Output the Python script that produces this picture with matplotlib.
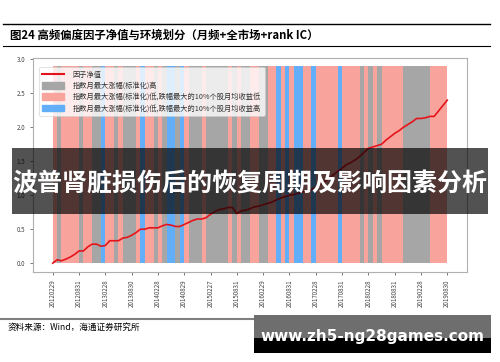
import matplotlib
matplotlib.use("Agg")
import matplotlib.pyplot as plt
import numpy as np
from matplotlib.patches import Patch, Rectangle
from matplotlib.lines import Line2D

plt.rcParams['font.family'] = ['Noto Sans CJK SC', 'DejaVu Sans']

# factor net value, one point per month end (20120229 .. 20190830)
nav = [0.00, 0.05, 0.035, 0.06, 0.09, 0.13, 0.18, 0.18, 0.24, 0.28,
       0.28, 0.25, 0.26, 0.33, 0.33, 0.33, 0.37, 0.38, 0.41, 0.45,
       0.50, 0.50, 0.52, 0.52, 0.52, 0.55, 0.57, 0.56, 0.54, 0.54,
       0.57, 0.60, 0.63, 0.65, 0.65, 0.67, 0.72, 0.76, 0.79, 0.80,
       0.82, 0.82, 0.73, 0.77, 0.78, 0.80, 0.83, 0.84, 0.86, 0.88,
       0.90, 0.93, 0.96, 0.98, 1.00, 1.01, 1.03, 1.05, 1.06, 1.08,
       1.12, 1.16, 1.20, 1.25, 1.30, 1.35, 1.40, 1.45, 1.48, 1.52,
       1.57, 1.63, 1.69, 1.71, 1.73, 1.75, 1.81, 1.86, 1.91, 1.95,
       2.00, 2.04, 2.08, 2.13, 2.13, 2.14, 2.16, 2.16, 2.24, 2.32,
       2.40]

# monthly regime: G = 涨幅高, S = 涨幅低/收益低, B = 涨幅低/收益高
regime = list("SGSSSSGSSG" "GBSSGSGGGS" "BSSGSGBBGB" "SGGGSGGGGG"
              "SGSGGSSGGS" "SBSBSBBSSB" "SSSSSBSSSS" "GSGSGSSSSS"
              "GGGGGGSSSS")
regime_height = 2.9

tick_labels = ['20120229', '20120831', '20130228', '20130830', '20140228',
               '20140829', '20150227', '20150831', '20160229', '20160831',
               '20170228', '20170831', '20180228', '20180831', '20190228',
               '20190830']

labels = ['因子净值',
          '指数月最大涨幅(标准化)高',
          '指数月最大涨幅(标准化)低,跌幅最大的10%个股月均收益低',
          '指数月最大涨幅(标准化)低,跌幅最大的10%个股月均收益高']

colors = {'G': '#a6a6a6', 'S': '#f8a49d', 'B': '#62aef8'}
red = '#e5141b'

W, H = 500, 362
fig = plt.figure(figsize=(5, 3.62), dpi=100)

def fy(y):
    return 1 - y / H

ax = fig.add_axes([33 / W, fy(272), (467 - 33) / W, (272 - 58) / H])

xb = np.arange(len(regime))
ax.bar(xb, [regime_height] * len(regime), width=1.0, align='edge',
       color=[colors[r] for r in regime], linewidth=0, zorder=1)
ax.plot(np.arange(len(nav)), nav, color=red, lw=1.2, zorder=3)

ax.set_xlim(-4.5, 94.5)
ax.set_ylim(-0.13, 3.02)
ax.set_yticks([0, 0.5, 1.0, 1.5, 2.0, 2.5, 3.0])
ax.set_yticklabels(['0.0', '0.5', '1.0', '1.5', '2.0', '2.5', '3.0'])
ax.set_xticks(np.arange(0, 91, 6))
ax.set_xticklabels(tick_labels, rotation=90)
ax.tick_params(labelsize=4.5, colors='#444444', length=2, width=0.5)
for s in ax.spines.values():
    s.set_color('#b0b0b0')
    s.set_linewidth(0.8)

handles = [Line2D([], [], color=red, lw=1.5),
           Patch(color=colors['G']), Patch(color=colors['S']),
           Patch(color=colors['B'])]
leg = ax.legend(handles, labels, loc='upper left', fontsize=5.2,
                frameon=True, framealpha=0.8, edgecolor='#cccccc',
                borderpad=0.5, labelspacing=0.45, handlelength=3.0,
                handleheight=1.0, handletextpad=1.2,
                bbox_to_anchor=(0.005, 0.975))
leg.get_frame().set_linewidth(0.5)
for t in leg.get_texts():
    t.set_color('#333333')

# header / footer decorations
fig.add_artist(Line2D([3 / W, 490 / W], [fy(24), fy(24)], color='black', lw=1.0))
fig.add_artist(Line2D([3 / W, 490 / W], [fy(46), fy(46)], color='black', lw=0.8))
fig.text(10 / W, fy(35), '图24 高频偏度因子净值与环境划分（月频+全市场+rank IC）',
         fontsize=8.2, fontweight='bold', va='center', ha='left')
fig.add_artist(Line2D([0, 255 / W], [fy(319), fy(319)], color='#808080', lw=1.5))
fig.text(8 / W, fy(327), '资料来源：Wind，海通证券研究所', fontsize=6.2,
         va='center', ha='left')

# overlay banner
fig.add_artist(Rectangle((12 / W, fy(214)), (488 - 12) / W, 66 / H,
                         transform=fig.transFigure, facecolor='black',
                         alpha=0.68, edgecolor='none', zorder=10))
fig.text(250 / W, fy(184), '波普肾脏损伤后的恢复周期及影响因素分析',
         fontsize=18, fontweight='bold', color='white', ha='center',
         va='center', zorder=11)

# watermark box
fig.add_artist(Rectangle((254 / W, fy(353)), (491 - 254) / W, 38 / H,
                         transform=fig.transFigure, facecolor='black',
                         edgecolor='none', zorder=10))
fig.add_artist(Rectangle((254 / W, fy(338)), (491 - 254) / W, 23 / H,
                         transform=fig.transFigure, facecolor='#6e6e6e',
                         edgecolor='none', zorder=10))
fig.text(372 / W, fy(336), 'www.zh5-ng28games.com', fontsize=11,
         fontweight='bold', color='white', ha='center', va='center',
         family='DejaVu Sans', zorder=11)

fig.savefig('out.png', dpi=100)
